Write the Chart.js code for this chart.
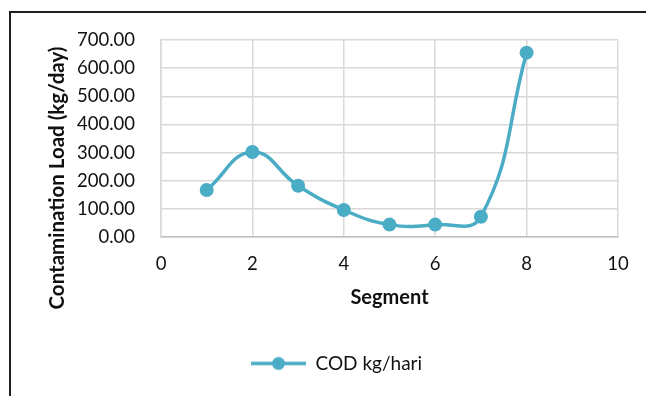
<!DOCTYPE html>
<html>
<head>
<meta charset="utf-8">
<script src="https://cdn.jsdelivr.net/npm/chart.js@4.4.1/dist/chart.umd.min.js"></script>
<style>
  html, body { margin: 0; padding: 0; background: #fff; overflow: hidden; }
  #wrap { position: relative; width: 646px; height: 396px; }
  #frame { position: absolute; left: 9px; top: 11px; width: 700px; height: 420px;
           border-left: 2px solid #1e1e1e; border-top: 2px solid #1e1e1e; }
  canvas { position: absolute; left: 0; top: 0; }
</style>
</head>
<body>
<div id="wrap">
  <div id="frame"></div>
  <canvas id="chart" width="646" height="396"></canvas>
</div>
<script>
const segments = [1, 2, 3, 4, 5, 6, 7, 8];
const codLoad = [167, 302, 182, 96, 44, 44, 72, 655];
const xTicks = [0, 2, 4, 6, 8, 10];
const yTicks = [0, 100, 200, 300, 400, 500, 600, 700];

const LINE = '#4bacc6';
const GRID = '#d9d9d9';
const FONT = 'Lato';
const Y_TITLE = 'Contamination Load (kg/day)';

// legend marker: line with a dot in the middle, like Excel.
// blank space on the left pushes the legend item over to the right
const MARK_W = 110;
const MARK_LEN = 55;
const marker = document.createElement('canvas');
marker.width = MARK_W;
marker.height = 16;
const mctx = marker.getContext('2d');
mctx.strokeStyle = LINE;
mctx.lineWidth = 3.5;
mctx.beginPath();
mctx.moveTo(MARK_W - MARK_LEN, 8);
mctx.lineTo(MARK_W, 8);
mctx.stroke();
mctx.fillStyle = LINE;
mctx.beginPath();
mctx.arc(MARK_W - MARK_LEN / 2, 8, 6.5, 0, Math.PI * 2);
mctx.fill();

// y title sits lower than the plot centre in the original, so draw it by hand
const yTitlePlugin = {
  id: 'yTitle',
  afterDraw(chart) {
    const ctx = chart.ctx;
    ctx.save();
    ctx.translate(57, 178);
    ctx.rotate(-Math.PI / 2);
    ctx.font = `bold 20.5px ${FONT}`;
    ctx.fillStyle = '#111';
    ctx.textAlign = 'center';
    ctx.textBaseline = 'middle';
    ctx.fillText(Y_TITLE, 0, 0);
    ctx.restore();
  },
};

const points = segments.map((x, i) => ({ x, y: codLoad[i] }));

new Chart(document.getElementById('chart'), {
  type: 'scatter',
  data: {
    datasets: [
      {
        label: 'COD kg/hari',
        data: points,
        showLine: true,
        borderColor: LINE,
        backgroundColor: LINE,
        borderWidth: 3.5,
        tension: 0.45,
        pointRadius: 7,
        pointHoverRadius: 7,
        pointBorderWidth: 0,
      },
    ],
  },
  plugins: [yTitlePlugin],
  options: {
    responsive: false,
    animation: false,
    events: [],
    layout: { padding: { top: 40, right: 28, left: 0, bottom: 13 } },
    plugins: {
      tooltip: { enabled: false },
      legend: {
        position: 'bottom',
        labels: {
          usePointStyle: true,
          pointStyle: marker,
          pointStyleWidth: MARK_W,
          color: '#111',
          padding: 10,
          font: { family: FONT, size: 19 },
        },
      },
    },
    scales: {
      x: {
        type: 'linear',
        min: xTicks[0],
        max: xTicks[xTicks.length - 1],
        afterBuildTicks: (scale) => {
          scale.ticks = xTicks.map((v) => ({ value: v }));
        },
        afterFit: (scale) => {
          scale.height = 107;
        },
        grid: { color: GRID, lineWidth: 1.5, drawTicks: false },
        border: { color: '#bfbfbf', width: 1.5 },
        ticks: { color: '#111', padding: 16, font: { family: FONT, size: 18.5 } },
        title: {
          display: true,
          text: 'Segment',
          color: '#111',
          padding: { top: 0, bottom: 34 },
          font: { family: FONT, size: 20, weight: 'bold' },
        },
      },
      y: {
        min: yTicks[0],
        max: yTicks[yTicks.length - 1],
        afterBuildTicks: (scale) => {
          scale.ticks = yTicks.map((v) => ({ value: v }));
        },
        afterFit: (scale) => {
          scale.width = 161;
        },
        grid: { color: GRID, lineWidth: 1.5, drawTicks: false },
        border: { color: GRID, width: 1.5 },
        ticks: {
          color: '#111',
          padding: 26,
          font: { family: FONT, size: 18.5 },
          callback: (v) => v.toFixed(2),
        },
      },
    },
  },
});
</script>
</body>
</html>
